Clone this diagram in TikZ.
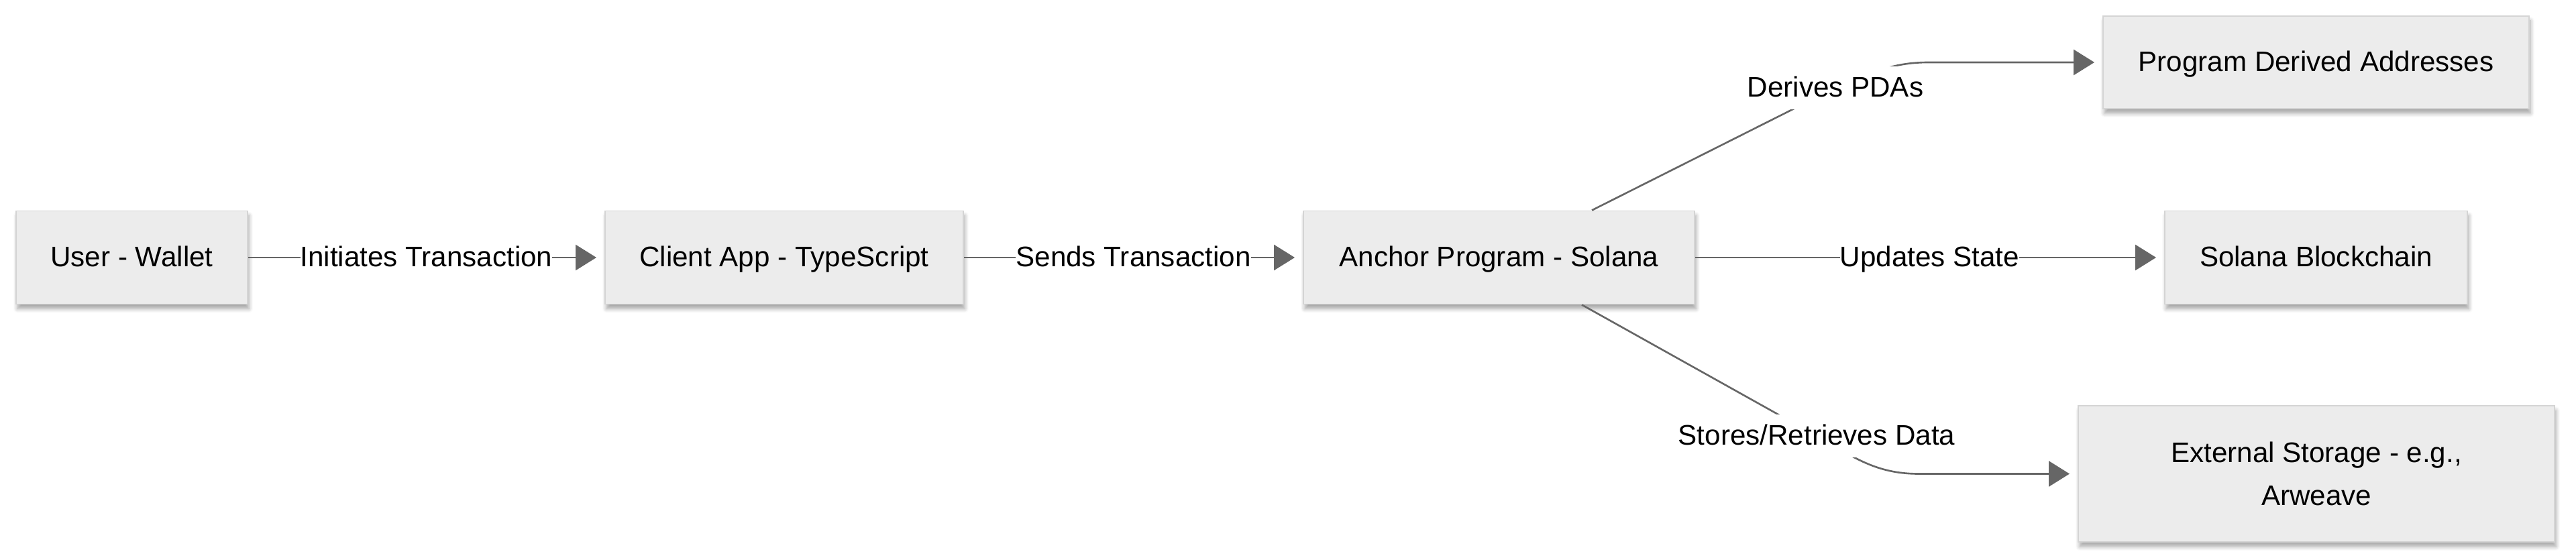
\documentclass[tikz,border=0pt]{standalone}
\usepackage{fontspec}
\setmainfont{Liberation Sans}
\usepackage{xcolor}
\usepackage{tikz}
\usetikzlibrary{positioning,shapes,shadows,shadows.blur,arrows.meta}
\definecolor{boxfill}{HTML}{ECECEC}
\definecolor{boxline}{HTML}{D4D4D4}
\definecolor{linkgray}{HTML}{666666}
\begin{document}
\begin{tikzpicture}
\tikzstyle{every node}+=[inner sep=0pt, font=\fontsize{12}{18}\selectfont]
\tikzstyle{box}=[draw=boxline, fill=boxfill, line width=0.55pt, minimum height=1.39cm, text height=0.386cm, text depth=0.12cm, blur shadow={shadow xshift=0.02cm, shadow yshift=-0.07cm, shadow blur steps=6, shadow blur radius=0.06cm, shadow opacity=35}]
\tikzstyle{lbl}=[fill=white, minimum height=0.64cm, text height=0.386cm, text depth=0.12cm]
\tikzstyle{link}=[draw=linkgray, line width=0.75pt, -{Triangle[length=0.31cm, width=0.38cm]}, shorten >=0.12cm]
\useasboundingbox (0,0) rectangle (38.4,-8.35);
\node [box, minimum width=3.45cm] (wallet) at (1.965,-3.84) {User - Wallet};
\node [box, minimum width=5.34cm] (client) at (11.69,-3.84) {Client App - TypeScript};
\node [box, minimum width=5.83cm] (anchor) at (22.345,-3.84) {Anchor Program - Solana};
\node [box, minimum width=6.35cm, minimum height=1.38cm] (pda) at (34.525,-0.93) {Program Derived Addresses};
\node [box, minimum width=4.51cm] (chain) at (34.525,-3.84) {Solana Blockchain};
\node [box, minimum width=7.10cm, minimum height=2.03cm, text height=, text depth=, align=center] (storage) at (34.53,-7.065) {External Storage - e.g.,\\Arweave};
\coordinate (pdamid) at (27.36,-1.31);
\coordinate (pdabend) at (28.75,-0.93);
\coordinate (storemid) at (27.08,-6.50);
\coordinate (storebend) at (28.6,-7.065);
\draw [link] (wallet) -- node [lbl] {Initiates Transaction} (client);
\draw [link] (client) -- node [lbl] {Sends Transaction} (anchor);
\draw [link] (anchor) -- node [lbl] {Updates State} (chain);
\draw [link] ([xshift=1.385cm]anchor.north) -- (pdamid) node [lbl] {Derives PDAs} to [out=22, in=180] (pdabend) -- (pda);
\draw [link] ([xshift=1.235cm]anchor.south) -- (storemid) node [lbl] {Stores/Retrieves Data} to [out=-30, in=180] (storebend) -- (storage);
\end{tikzpicture}
\end{document}
